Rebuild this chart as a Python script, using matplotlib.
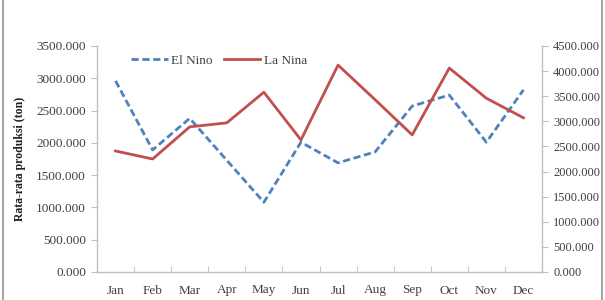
import matplotlib
matplotlib.use("Agg")
import matplotlib.pyplot as plt
from matplotlib.patches import Rectangle

months = ["Jan", "Feb", "Mar", "Apr", "May", "Jun", "Jul", "Aug", "Sep", "Oct", "Nov", "Dec"]
el_nino = [2960, 1890, 2380, 1730, 1080, 2010, 1690, 1860, 2570, 2740, 2010, 2820]
la_nina = [2410, 2250, 2890, 2970, 3580, 2630, 4120, 3430, 2730, 4060, 3460, 3070]
left_ticks = [0, 500, 1000, 1500, 2000, 2500, 3000, 3500]
right_ticks = [0, 500, 1000, 1500, 2000, 2500, 3000, 3500, 4000, 4500]

plt.rcParams['font.family'] = ['Liberation Serif', 'DejaVu Serif']
gray = "#BFBFBF"
txt = "#404040"

fig = plt.figure(figsize=(6.05, 3.0), dpi=100)
ax = fig.add_axes([97/605, 1 - 272/300, (542-97)/605, (272-46)/300])
ax2 = ax.twinx()

x = list(range(len(months)))
l1, = ax.plot(x, el_nino, color="#4F81BD", lw=2.0, dashes=(2.6, 1.3), label="El Nino")
l2, = ax2.plot(x, la_nina, color="#C0504D", lw=2.0, label="La Nina")

ax.set_xlim(-0.5, 11.5)
ax.set_ylim(0, 3500)
ax2.set_ylim(0, 4500)
ax.set_yticks(left_ticks)
ax.set_yticklabels([f"{v}.000" for v in left_ticks])
ax2.set_yticks(right_ticks)
ax2.set_yticklabels([f"{v}.000" for v in right_ticks])

ax.set_xticks(x)
ax.set_xticklabels(months)
ax.set_xticks([i - 0.5 for i in range(13)], minor=True)
ax.tick_params(axis='x', which='major', length=0, pad=9, labelsize=9.5, colors=txt)
ax.tick_params(axis='x', which='minor', length=4, color=gray, direction='in')
ax.tick_params(axis='y', length=4, color=gray, labelsize=9.5, labelcolor=txt, pad=4)
ax2.tick_params(axis='y', length=4, color=gray, labelsize=9, labelcolor=txt, pad=4)

for a in (ax, ax2):
    a.spines['top'].set_visible(False)
    for s in ('left', 'right', 'bottom'):
        a.spines[s].set_color(gray)
        a.spines[s].set_linewidth(1.0)
ax.spines['right'].set_visible(False)
ax2.spines['left'].set_visible(False)
ax2.spines['bottom'].set_visible(False)

ax.set_ylabel("Rata-rata produksi (ton)", fontsize=8.5, fontweight='bold', color="#202020", labelpad=7)

leg = ax.legend(handles=[l1, l2], loc='center left', bbox_to_anchor=(0.065, 0.935), ncol=2,
                frameon=False, fontsize=9.5, handlelength=2.8, columnspacing=0.8,
                handletextpad=0.25, borderaxespad=0)
for t in leg.get_texts():
    t.set_color(txt)

fig.patches.append(Rectangle((3/605, -0.1), 599/605, 1.2, transform=fig.transFigure,
                             fill=False, edgecolor="#A6A6A6", lw=1.5))

fig.savefig("out.png", dpi=100)
